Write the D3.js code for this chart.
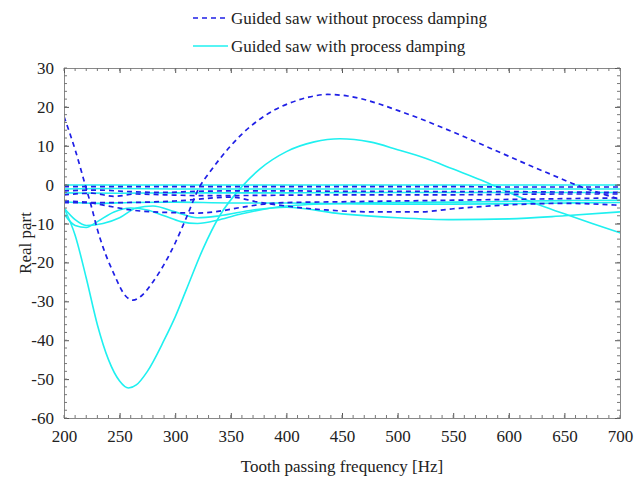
<!DOCTYPE html>
<html><head><meta charset="utf-8">
<script src="https://cdn.jsdelivr.net/npm/d3@7"></script>
<style>body{margin:0;background:#fff;} text{font-family:"Liberation Serif","Times New Roman",serif;}</style>
</head><body><svg id="c" width="644" height="485"></svg>
<script>
// Frequencies [Hz] and real parts for each curve
const xTicks = [200,250,300,350,400,450,500,550,600,650,700];
const yTicks = [30,20,10,0,-10,-20,-30,-40,-50,-60];
const legendLabels = ["Guided saw without process damping","Guided saw with process damping"];

// Without process damping (dashed)
const dashedA = [[200,17.5],[210,9],[219,0],[225,-6],[230,-11.5],[235,-16],[245,-23],[255,-28.5],[262,-29.7],[270,-28.5],[280,-25],[290,-20.5],[300,-15],[310,-8.5],[322,-0.5],[330,2.8],[340,6.6],[350,10],[360,13],[375,16.6],[390,19.3],[405,21.2],[420,22.5],[437,23.2],[455,22.8],[470,21.9],[485,20.6],[500,19.1],[520,17],[540,14.7],[560,12.3],[580,9.8],[600,7.3],[620,4.8],[640,2.4],[660,0],[680,-2],[700,-3.8]];
const dashedB = [[200,-0.5],[250,-0.5],[300,-0.5],[350,-0.5],[400,-0.5],[450,-0.5],[500,-0.5],[550,-0.5],[600,-0.6],[650,-0.6],[700,-0.6]];
const dashedC = [[200,-1.6],[230,-1.4],[260,-1.8],[290,-2.0],[320,-1.7],[360,-1.6],[400,-1.6],[450,-1.7],[500,-1.7],[550,-1.8],[600,-1.8],[650,-1.9],[700,-2.0]];
const dashedD = [[200,-2.6],[225,-2.2],[245,-3.0],[265,-2.4],[290,-2.6],[320,-2.8],[350,-2.8],[400,-2.7],[450,-2.6],[500,-2.6],[550,-2.6],[600,-2.5],[650,-2.4],[700,-2.4]];
const dashedE = [[200,-4.2],[220,-4.5],[240,-5.5],[260,-6.5],[280,-7],[300,-7.2],[320,-7.3],[340,-6.8],[360,-5.8],[380,-5],[400,-4.6],[450,-4.4],[500,-4.2],[550,-4.0],[600,-3.8],[650,-3.6],[700,-3.4]];
const dashedF = [[200,-4.6],[250,-4.6],[300,-4.2],[350,-3.2],[375,-4.5],[400,-5.5],[435,-6.5],[480,-7],[520,-7],[550,-6.2],[600,-5.2],[650,-4.8],[700,-5.3]];

// With process damping (solid)
const solidA = [[200,-6],[210,-13],[220,-24],[230,-36],[240,-45],[250,-50.5],[258,-52.3],[265,-51.5],[275,-48],[290,-40],[300,-34],[310,-27],[325,-16.5],[340,-8],[360,-0.5],[376,4],[400,8.5],[425,11],[448,11.8],[475,11],[500,9],[525,6.8],[550,4],[575,1.2],[600,-2],[625,-5],[650,-7.5],[675,-10],[700,-12.4]];
const solidB = [[200,-7.5],[210,-10.5],[220,-11],[230,-9.5],[245,-7],[260,-6],[275,-6.5],[290,-8],[305,-9.5],[320,-10],[340,-9],[360,-7.5],[400,-5.5],[450,-4.8],[500,-4.6],[550,-4.5],[600,-4.3],[650,-4.1],[700,-4]];
const solidC = [[200,-6],[210,-9],[220,-10.5],[235,-10],[250,-8.5],[265,-6],[280,-5.5],[300,-7],[320,-8.5],[340,-8],[370,-6.5],[400,-5.8],[450,-7.5],[500,-8.5],[550,-9],[600,-8.8],[650,-8],[700,-7]];
const solidD = [[200,-0.1],[300,-0.1],[400,-0.1],[500,-0.1],[600,-0.1],[700,-0.1]];
const solidE = [[200,-1.1],[250,-1.0],[300,-1.1],[400,-1.1],[500,-1.1],[600,-1.1],[700,-1.1]];
const solidF = [[200,-2.1],[250,-2.2],[300,-2.1],[400,-2.1],[500,-2.0],[600,-2.0],[700,-2.0]];
const solidG = [[200,-4.4],[230,-4.8],[260,-4.6],[300,-4.5],[350,-4.7],[400,-4.7],[450,-4.9],[500,-5],[550,-5],[600,-4.9],[650,-4.7],[700,-4.6]];

const dashedSeries = [dashedA,dashedB,dashedC,dashedD,dashedE,dashedF];
const solidSeries = [solidA,solidB,solidC,solidD,solidE,solidF,solidG];

const svg = d3.select("#c");
const L=64,R=620,T=68,B=418;
const x = d3.scaleLinear().domain([200,700]).range([L,R]);
const y = d3.scaleLinear().domain([-60,30]).range([B,T]);
const DASH="#1f1fe6", CYAN="#1ff0f0";

const line = d3.line().x(d=>x(d[0])).y(d=>y(d[1])).curve(d3.curveMonotoneX);
const g = svg.append("g");
g.append("defs").append("clipPath").attr("id","clip").append("rect").attr("x",L).attr("y",T).attr("width",R-L).attr("height",B-T);
const plot = g.append("g").attr("clip-path","url(#clip)");
solidSeries.forEach(s=>plot.append("path").attr("d",line(s)).attr("fill","none").attr("stroke",CYAN).attr("stroke-width",1.6));
dashedSeries.forEach(s=>plot.append("path").attr("d",line(s)).attr("fill","none").attr("stroke",DASH).attr("stroke-width",1.7).attr("stroke-dasharray","5,4"));

// Axes (ticks inside, mirrored)
const minorX = d3.range(200,701,10), minorY = d3.range(-60,31,2);
const axCol="#888";
const fmt = d=>String(d);
const xb = d3.axisBottom(x).tickValues(xTicks).tickSize(-5).tickPadding(12).tickFormat(fmt);
const yl = d3.axisLeft(y).tickValues(yTicks).tickSize(-5).tickPadding(10).tickFormat(fmt);
function style(sel){sel.select(".domain").attr("stroke",axCol);sel.selectAll(".tick line").attr("stroke","#555");sel.selectAll("text").attr("fill","#222").attr("font-size",17).attr("font-family","Liberation Serif");}
const gx = svg.append("g").attr("transform",`translate(0,${B})`).call(xb); style(gx);
const gy = svg.append("g").attr("transform",`translate(${L},0)`).call(yl); style(gy);
svg.append("g").attr("transform",`translate(0,${T})`).call(d3.axisTop(x).tickValues(xTicks).tickSize(-5).tickFormat("")).call(style);
svg.append("g").attr("transform",`translate(${R},0)`).call(d3.axisRight(y).tickValues(yTicks).tickSize(-5).tickFormat("")).call(style);
// minor ticks
const mg = svg.append("g").attr("stroke","#777").attr("stroke-width",1);
minorX.forEach(v=>{mg.append("line").attr("x1",x(v)).attr("x2",x(v)).attr("y1",B).attr("y2",B-3);mg.append("line").attr("x1",x(v)).attr("x2",x(v)).attr("y1",T).attr("y2",T+3);});
minorY.forEach(v=>{mg.append("line").attr("y1",y(v)).attr("y2",y(v)).attr("x1",L).attr("x2",L+3);mg.append("line").attr("y1",y(v)).attr("y2",y(v)).attr("x1",R).attr("x2",R-3);});

// Titles
svg.append("text").attr("x",(L+R)/2).attr("y",472).attr("text-anchor","middle").attr("font-size",17).attr("fill","#222").text("Tooth passing frequency [Hz]");
svg.append("text").attr("transform",`translate(31,${(T+B)/2}) rotate(-90)`).attr("text-anchor","middle").attr("font-size",17).attr("fill","#222").text("Real part");

// Legend
const lg = svg.append("g");
lg.append("line").attr("x1",193).attr("x2",227).attr("y1",18).attr("y2",18).attr("stroke",DASH).attr("stroke-width",1.6).attr("stroke-dasharray","5,4");
lg.append("line").attr("x1",193).attr("x2",228).attr("y1",46).attr("y2",46).attr("stroke",CYAN).attr("stroke-width",1.6);
lg.append("text").attr("x",231).attr("y",24).attr("font-size",17).attr("fill","#222").text(legendLabels[0]);
lg.append("text").attr("x",231).attr("y",52).attr("font-size",17).attr("fill","#222").text(legendLabels[1]);
</script></body></html>
